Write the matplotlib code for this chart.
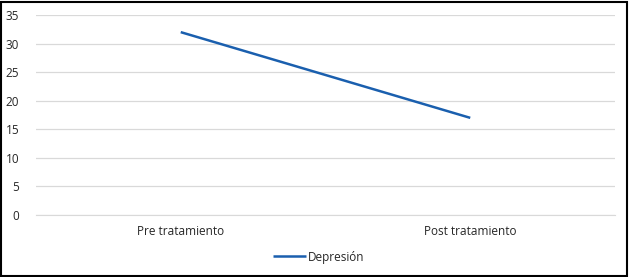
import matplotlib
matplotlib.use("Agg")
import matplotlib.pyplot as plt
from matplotlib.patches import Rectangle

categories = ["Pre tratamiento", "Post tratamiento"]
depresion = [32, 17]
yticks = [0, 5, 10, 15, 20, 25, 30, 35]

plt.rcParams['font.family'] = ['Open Sans', 'DejaVu Sans']

fig = plt.figure(figsize=(6.29, 2.77), dpi=100)
ax = fig.add_axes([36/629, 1-215/277, (615-36)/629, 200/277])
x = list(range(len(categories)))
ax.plot(x, depresion, color="#1a5fae", lw=1.8, label="Depresión", solid_capstyle="butt")
ax.set_xlim(-0.5, len(categories)-0.5)
ax.set_ylim(0, 35)
ax.set_yticks(yticks)
ax.set_xticks(x)
ax.set_xticklabels(categories)
ax.grid(axis="y", color="#d9d9d9", lw=0.9)
ax.set_axisbelow(True)
for s in ["top", "right", "left"]:
    ax.spines[s].set_visible(False)
ax.spines["bottom"].set_color("#d9d9d9")
ax.tick_params(length=0, labelsize=8.5, colors="#262626")
ax.tick_params(axis="y", pad=12)
ax.tick_params(axis="x", pad=7)
leg = ax.legend(loc="center", bbox_to_anchor=(0.488, (215-257)/200), frameon=False,
                fontsize=8.5, handlelength=2.8, handletextpad=0.15)
for t in leg.get_texts():
    t.set_color("#262626")
fig.add_artist(Rectangle((0.002, 0.004), 0.995, 0.99, transform=fig.transFigure,
                         fill=False, ec="black", lw=1.5))
fig.savefig("out.png", dpi=100)
